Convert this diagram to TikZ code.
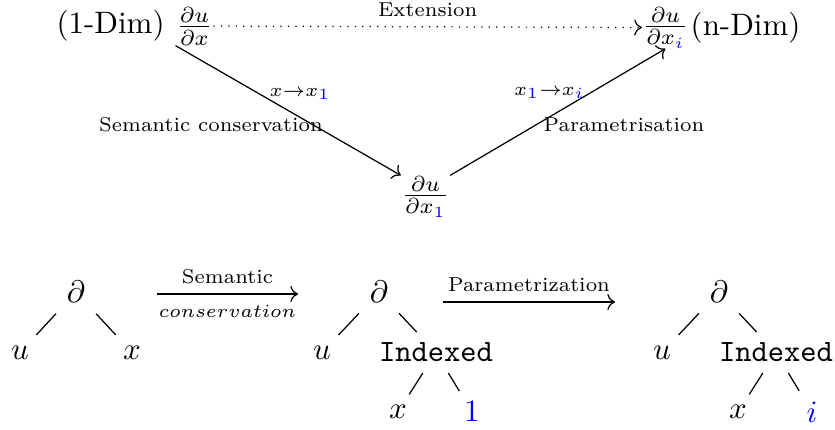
\documentclass[tikz,border=0pt]{standalone}
\usepackage{amsmath,amssymb}
\usepackage{xcolor}
\usepackage{tikz}
\usetikzlibrary{arrows.meta,positioning}

\begin{document}
\begin{tikzpicture}[
	deriv/.style={inner sep=0pt},
	rel/.style={font=\fontsize{6.5}{7.5}\selectfont,inner sep=0pt}
	]
	\useasboundingbox (0,0) rectangle (9.467,-4.864);
	\node[deriv] (d1) at (2.205,-0.295) {$\frac{\partial u}{\partial x}$};
	\node[left=0pt of d1] (dim1) {(1-Dim)};
	\node[deriv] (dn) at (7.545,-0.312) {$\frac{\partial u}{\partial x_{\color{blue}i}}$};
	\node[right=-3pt of dn] (dimn) {(n-Dim)};
	\node[deriv] (dm) at (4.824,-2.228) {$\frac{\partial u}{\partial x_{\color{blue}1}}$};
	\draw[->,dotted] (d1.east) -- node[rel,above=3pt]{Extension} (dn.west);
	\draw[->] (d1.south west) -- (dm.north west);
	\draw[->] (dm.north east) -- (dn.south);
	\node[rel] (tr1) at (3.401,-1.066) {$x{\to}x_{\color{blue}1}$};
	\node[rel] (sc) at (2.392,-1.417) {Semantic conservation};
	\node[rel] (tr2) at (6.230,-1.054) {$x_{\color{blue}1}{\to}x_{\color{blue}i}$};
	\node[rel] (pa) at (7.075,-1.411) {Parametrisation};

	\node (p1) at (0.862,-3.311) {$\partial$};
	\node (u1) at (0.227,-3.997) {$u$};
	\node (x1) at (1.497,-3.997) {$x$};
	\draw (p1) -- (u1);
	\draw (p1) -- (x1);

	\coordinate (s1) at (1.780,-3.333);
	\coordinate (s2) at (3.379,-3.333);
	\draw[->] (s1) -- node[rel,above=3pt]{Semantic} node[rel,below=3.5pt]{$conservation$} (s2);

	\node (p2) at (4.297,-3.311) {$\partial$};
	\node (u2) at (3.651,-3.997) {$u$};
	\node (i2) at (4.943,-3.997) {\texttt{Indexed}};
	\node (x2) at (4.512,-4.671) {$x$};
	\node (o2) at (5.351,-4.671) {$\color{blue}1$};
	\draw (p2) -- (u2);
	\draw (p2) -- (i2);
	\draw (i2) -- (x2);
	\draw (i2) -- (o2);

	\coordinate (t1) at (5.023,-3.424);
	\coordinate (t2) at (6.973,-3.424);
	\draw[->] (t1) -- node[rel,above=3pt]{Parametrization} (t2);

	\node (p3) at (8.152,-3.311) {$\partial$};
	\node (u3) at (7.506,-3.997) {$u$};
	\node (i3) at (8.798,-3.997) {\texttt{Indexed}};
	\node (x3) at (8.367,-4.671) {$x$};
	\node (o3) at (9.206,-4.671) {$\color{blue}i$};
	\draw (p3) -- (u3);
	\draw (p3) -- (i3);
	\draw (i3) -- (x3);
	\draw (i3) -- (o3);
\end{tikzpicture}
\end{document}
